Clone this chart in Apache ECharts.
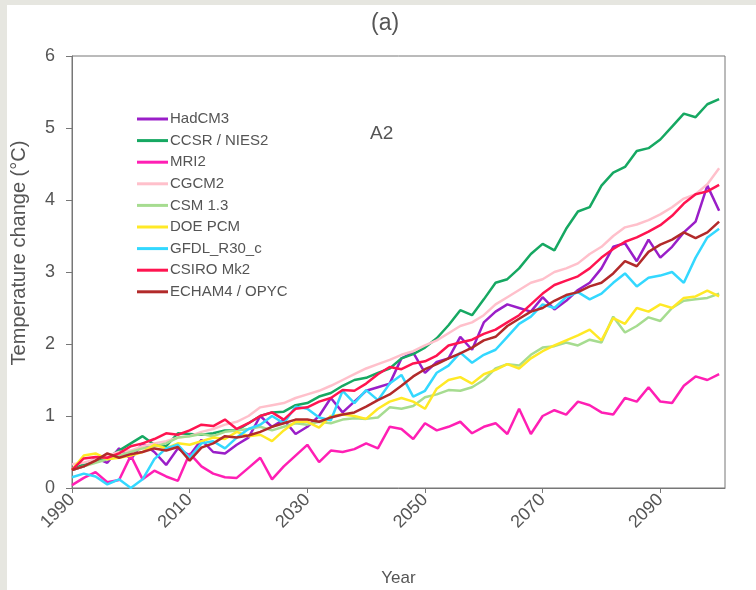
<!DOCTYPE html>
<html>
<head>
<meta charset="utf-8">
<script src="https://cdn.jsdelivr.net/npm/echarts@6/dist/echarts.min.js"></script>
<style>
  html, body { margin: 0; padding: 0; background: #e6e6e0; }
  #paper { position: absolute; left: 7px; top: 5px; width: 749px; height: 585px; background: #ffffff; }
  #chart { position: absolute; left: 0; top: 0; width: 756px; height: 590px; }
</style>
</head>
<body>
<div id="paper"></div>
<div id="chart"></div>
<script>
// Simulated global mean temperature change under SRES A2, relative to 1990 (°C)
const years = [];
for (let y = 1990; y <= 2100; y += 2) years.push(y);

const xTicks = [1990, 2010, 2030, 2050, 2070, 2090];
const yTicks = [0, 1, 2, 3, 4, 5, 6];

const modelNames = ['HadCM3', 'CCSR / NIES2', 'MRI2', 'CGCM2', 'CSM 1.3', 'DOE PCM', 'GFDL_R30_c', 'CSIRO Mk2', 'ECHAM4 / OPYC'];
const modelColors = ['#9a1ec8', '#16a862', '#ff1fb4', '#ffc0cb', '#a6dc90', '#ffe926', '#33d8ff', '#ff1450', '#b22a2a'];

const hadcm3 = [0.25, 0.3, 0.42, 0.35, 0.55, 0.4, 0.62, 0.5, 0.32, 0.55, 0.45, 0.67, 0.5, 0.48, 0.6, 0.7,
  1.0, 0.85, 0.95, 0.75, 0.85, 1.0, 1.25, 1.05, 1.2, 1.35, 1.4, 1.45, 1.8, 1.88, 1.6, 1.75, 1.8, 2.1,
  1.92, 2.3, 2.45, 2.55, 2.5, 2.45, 2.65, 2.48, 2.6, 2.75, 2.85, 3.05, 3.35, 3.4, 3.15, 3.45, 3.2, 3.35,
  3.55, 3.7, 4.2, 3.85];
const ccsr = [0.25, 0.33, 0.38, 0.42, 0.52, 0.62, 0.72, 0.6, 0.58, 0.76, 0.75, 0.74, 0.76, 0.8, 0.8, 0.9,
  1.0, 1.05, 1.06, 1.15, 1.18, 1.27, 1.32, 1.42, 1.5, 1.53, 1.6, 1.66, 1.8, 1.86, 1.95, 2.08, 2.26, 2.47,
  2.4, 2.62, 2.85, 2.9, 3.05, 3.25, 3.39, 3.3, 3.6, 3.84, 3.9, 4.2, 4.38, 4.46, 4.68, 4.72, 4.84, 5.02,
  5.2, 5.15, 5.33, 5.4];
const mri2 = [0.04, 0.14, 0.22, 0.08, 0.11, 0.45, 0.12, 0.24, 0.16, 0.1, 0.48, 0.3, 0.2, 0.15, 0.14, 0.28,
  0.42, 0.12, 0.3, 0.45, 0.6, 0.36, 0.52, 0.5, 0.54, 0.62, 0.55, 0.85, 0.82, 0.68, 0.9, 0.8, 0.85, 0.92,
  0.76, 0.85, 0.9, 0.75, 1.1, 0.75, 1.0, 1.08, 1.02, 1.2, 1.15, 1.05, 1.02, 1.25, 1.2, 1.4, 1.2, 1.18,
  1.42, 1.55, 1.5, 1.58];
const cgcm2 = [0.33, 0.35, 0.4, 0.45, 0.5, 0.52, 0.58, 0.62, 0.65, 0.7, 0.72, 0.78, 0.82, 0.88, 0.92, 1.0,
  1.12, 1.15, 1.18, 1.25, 1.3, 1.35, 1.42, 1.5, 1.58, 1.66, 1.72, 1.78, 1.85, 1.9, 1.98, 2.05, 2.15, 2.25,
  2.3, 2.4, 2.55, 2.65, 2.75, 2.85, 2.9, 3.0, 3.05, 3.12, 3.25, 3.35, 3.5, 3.62, 3.66, 3.72, 3.8, 3.9,
  4.02, 4.08, 4.22, 4.44];
const csm13 = [0.25, 0.3, 0.35, 0.4, 0.45, 0.5, 0.55, 0.58, 0.62, 0.7, 0.72, 0.75, 0.72, 0.78, 0.8, 0.82,
  0.85, 0.8, 0.85, 0.9, 0.88, 0.92, 0.9, 0.95, 0.97, 0.96, 0.98, 1.12, 1.1, 1.14, 1.26, 1.3, 1.36, 1.35,
  1.4, 1.5, 1.66, 1.72, 1.7, 1.85, 1.95, 1.97, 2.02, 1.98, 2.06, 2.02, 2.38, 2.16, 2.25, 2.37, 2.32, 2.5,
  2.6, 2.62, 2.64, 2.7];
const doepcm = [0.25, 0.45, 0.48, 0.4, 0.42, 0.45, 0.5, 0.6, 0.55, 0.62, 0.6, 0.65, 0.7, 0.68, 0.78, 0.72,
  0.74, 0.65, 0.8, 0.92, 0.92, 0.84, 1.0, 1.02, 1.0, 0.96, 1.1, 1.2, 1.25, 1.2, 1.1, 1.38, 1.5, 1.54,
  1.45, 1.58, 1.64, 1.72, 1.66, 1.8, 1.9, 1.98, 2.05, 2.12, 2.2, 2.05, 2.36, 2.28, 2.5, 2.45, 2.55, 2.5,
  2.64, 2.66, 2.74, 2.66];
const gfdl = [0.15, 0.2, 0.16, 0.05, 0.12, 0.0, 0.12, 0.4, 0.55, 0.6, 0.42, 0.62, 0.65, 0.55, 0.7, 0.82,
  0.88, 1.0, 0.9, 1.13, 1.1, 0.98, 0.94, 1.35, 1.18, 1.36, 1.22, 1.45, 1.57, 1.27, 1.35, 1.6, 1.7, 1.88,
  1.74, 1.85, 1.92, 2.1, 2.28, 2.38, 2.55, 2.5, 2.65, 2.72, 2.62, 2.7, 2.85, 2.98, 2.8, 2.92, 2.95, 3.0,
  2.85, 3.2, 3.48, 3.6];
const csiro = [0.25, 0.41, 0.43, 0.42, 0.48, 0.58, 0.62, 0.68, 0.76, 0.74, 0.8, 0.88, 0.86, 0.95, 0.82, 0.9,
  1.0, 1.05, 0.95, 1.1, 1.12, 1.2, 1.25, 1.36, 1.35, 1.45, 1.58, 1.68, 1.65, 1.73, 1.76, 1.84, 1.98, 2.02,
  2.06, 2.14, 2.2, 2.3, 2.4, 2.55, 2.7, 2.82, 2.88, 2.94, 3.05, 3.2, 3.32, 3.42, 3.48, 3.56, 3.65, 3.78,
  3.95, 4.08, 4.12, 4.21];
const echam4 = [0.25, 0.3, 0.38, 0.48, 0.42, 0.47, 0.5, 0.55, 0.52, 0.57, 0.38, 0.56, 0.62, 0.72, 0.7, 0.73,
  0.78, 0.85, 0.9, 0.95, 0.95, 0.92, 0.98, 1.02, 1.05, 1.13, 1.22, 1.3, 1.42, 1.55, 1.65, 1.72, 1.8, 1.87,
  1.95, 2.05, 2.1, 2.25, 2.35, 2.45, 2.5, 2.6, 2.68, 2.72, 2.8, 2.85, 2.98, 3.15, 3.08, 3.28, 3.38, 3.45,
  3.55, 3.47, 3.55, 3.7];

const modelValues = [hadcm3, ccsr, mri2, cgcm2, csm13, doepcm, gfdl, csiro, echam4];

const txt = '#555555';
const axisCol = '#777777';
const font = "'Liberation Sans', Arial, sans-serif";

const series = modelNames.map((name, i) => ({
  name: name,
  type: 'line',
  data: years.map((y, k) => [y, modelValues[i][k]]),
  symbol: 'none',
  lineStyle: { color: modelColors[i], width: 2.5 },
  itemStyle: { color: modelColors[i] },
  z: 2 + i,
  animation: false
}));

const chart = echarts.init(document.getElementById('chart'), null, { renderer: 'canvas' });
chart.setOption({
  backgroundColor: 'transparent',
  animation: false,
  title: {
    text: '(a)',
    left: 366,
    top: 7,
    textStyle: { color: txt, fontSize: 23, fontWeight: 'normal', fontFamily: font }
  },
  graphic: [{
    type: 'text',
    left: 370,
    top: 124,
    style: { text: 'A2', fill: txt, fontSize: 19, fontFamily: font }
  }],
  legend: {
    orient: 'vertical',
    left: 132,
    top: 106,
    icon: 'rect',
    itemWidth: 31,
    itemHeight: 3,
    itemGap: 5.6,
    data: modelNames,
    textStyle: { color: txt, fontSize: 15, lineHeight: 16, fontFamily: font, padding: [0, 0, 0, -3] }
  },
  grid: {
    left: 72, right: 31, top: 56, bottom: 102,
    containLabel: false,
    outerBoundsMode: 'none',
    show: true, borderColor: axisCol, borderWidth: 1, backgroundColor: 'transparent'
  },
  xAxis: {
    type: 'value',
    min: 1990,
    max: 2101,
    name: 'Year',
    nameLocation: 'middle',
    nameGap: 82,
    nameTextStyle: { color: txt, fontSize: 17, fontFamily: font },
    splitLine: { show: false },
    axisLine: { show: true, lineStyle: { color: axisCol } },
    axisTick: { show: true, length: 5, lineStyle: { color: axisCol }, customValues: xTicks },
    axisLabel: {
      customValues: xTicks,
      rotate: 45,
      margin: 9,
      color: txt,
      fontSize: 18,
      fontFamily: font,
      formatter: v => String(v)
    }
  },
  yAxis: {
    type: 'value',
    min: 0,
    max: 6,
    interval: 1,
    name: 'Temperature change (°C)',
    nameLocation: 'middle',
    nameGap: 43,
    nameTextStyle: { color: txt, fontSize: 20, fontFamily: font, padding: [0, 0, 0, 38] },
    splitLine: { show: false },
    axisLine: { show: true, lineStyle: { color: axisCol } },
    axisTick: { show: true, length: 6, lineStyle: { color: axisCol } },
    axisLabel: {
      margin: 17,
      color: txt,
      fontSize: 18,
      fontFamily: font,
      formatter: v => (yTicks.indexOf(v) >= 0 ? String(v) : '')
    }
  },
  series: series
});
</script>
</body>
</html>
